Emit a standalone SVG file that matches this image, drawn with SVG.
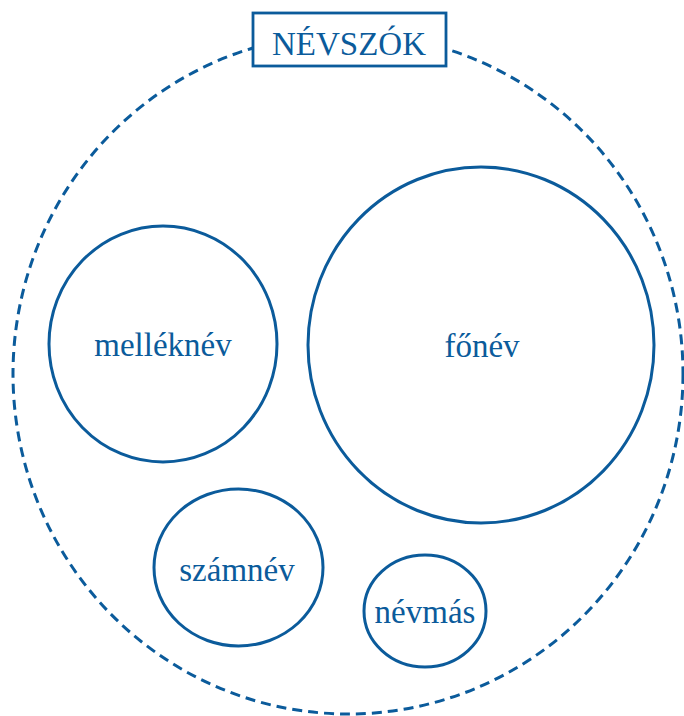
<svg xmlns="http://www.w3.org/2000/svg" width="684" height="716" viewBox="0 0 684 716">
<style>
.c{fill:none;stroke:#0b5b9b;stroke-width:3}
.t{font-family:"Liberation Serif","Times New Roman",serif;font-size:33px;fill:#0b5b9b;text-anchor:middle}
</style>
<rect width="684" height="716" fill="#ffffff"/>
<g id="nevszok">
<ellipse cx="348" cy="374" rx="335" ry="340" fill="none" stroke="#0b5b9b" stroke-width="3" stroke-dasharray="10 6"/>
<rect x="253" y="13" width="193" height="53" fill="#ffffff" stroke="#0b5b9b" stroke-width="2.8"/>
<text class="t" x="349" y="55">NÉVSZÓK</text>
</g>
<g id="connectors"></g>
<g id="melleknev">
<ellipse class="c" cx="163" cy="344" rx="114" ry="118"/>
<text class="t" x="163" y="356">melléknév</text>
</g>
<g id="fonev">
<ellipse class="c" cx="481" cy="345" rx="173" ry="178"/>
<text class="t" x="482" y="357">főnév</text>
</g>
<g id="szamnev">
<ellipse class="c" cx="238.5" cy="567.5" rx="84.5" ry="78.5"/>
<text class="t" x="237" y="581">számnév</text>
</g>
<g id="nevmas">
<ellipse class="c" cx="425" cy="611" rx="61" ry="56"/>
<text class="t" x="425" y="623">névmás</text>
</g>
</svg>
